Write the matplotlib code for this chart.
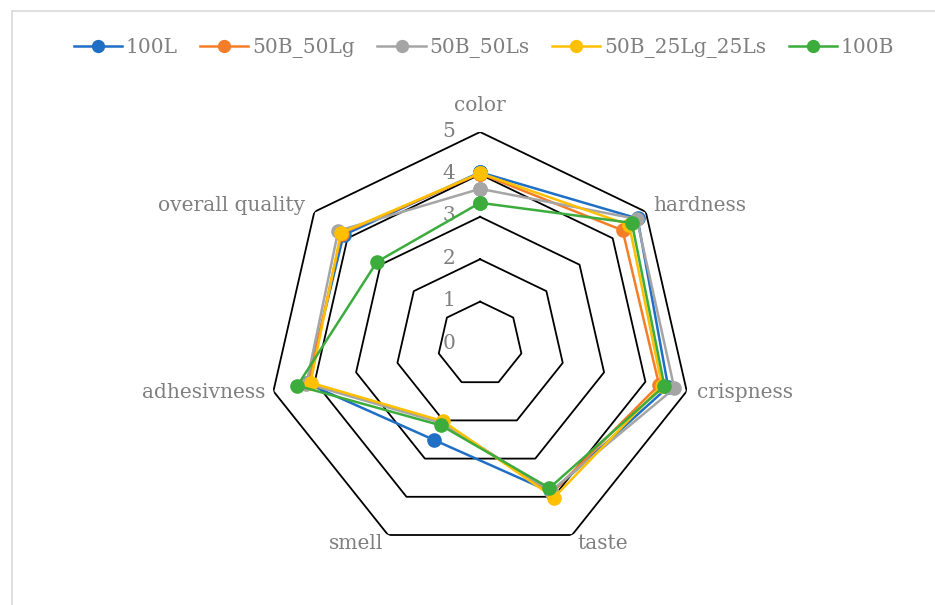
import numpy as np
import matplotlib.pyplot as plt
from matplotlib.patches import Rectangle

categories = ['color', 'hardness', 'crispness', 'taste', 'smell',
              'adhesivness', 'overall quality']
series_names = ['100L', '50B_50Lg', '50B_50Ls', '50B_25Lg_25Ls', '100B']
v_100L = [4.05, 4.75, 4.55, 3.88, 2.51, 4.18, 4.12]
v_50B_50Lg = [4.02, 4.30, 4.33, 3.90, 2.05, 4.15, 4.18]
v_50B_50Ls = [3.66, 4.73, 4.70, 3.85, 2.07, 4.20, 4.28]
v_50B_25Lg_25Ls = [4.03, 4.50, 4.40, 4.02, 2.02, 4.10, 4.20]
v_100B = [3.33, 4.58, 4.46, 3.77, 2.13, 4.42, 3.11]
colors = ['#1f6fc5', '#f47d2a', '#a5a5a5', '#ffc000', '#3cac3c']
ring_values = [1, 2, 3, 4, 5]
ring_labels = ['0', '1', '2', '3', '4', '5']

txt_color = '#7f7f7f'
font = 'DejaVu Serif'
fsize = 14.5

fig = plt.figure(figsize=(9.35, 6.05), dpi=100)
fig.patches.append(Rectangle((12 / 935, -0.02), 1.0, 1 - 11 / 605 + 0.02,
                             transform=fig.transFigure, fill=False,
                             edgecolor='#d9d9d9', linewidth=1.2))

ax = fig.add_axes([0.2867, 0.0810, 0.4535, 0.7008], projection='polar')
ax.set_theta_offset(np.pi / 2)
ax.set_theta_direction(-1)
ax.set_ylim(0, 5)
ax.grid(False)
ax.spines['polar'].set_visible(False)
ax.set_xticks([])
ax.set_yticks([])
ax.patch.set_alpha(0)

n = len(categories)
angles = np.linspace(0, 2 * np.pi, n, endpoint=False)
closed = np.concatenate([angles, angles[:1]])

# heptagon grid
for r in ring_values:
    ax.plot(closed, [r] * (n + 1), color='black', linewidth=1.3, zorder=1)

# value labels along the top axis
for i, lab in enumerate(ring_labels):
    ax.annotate(lab, (0, i), xytext=(-31, 1), textcoords='offset pixels',
                ha='center', va='center', fontsize=fsize, color=txt_color,
                family=font)

# category labels
offsets = [(0, 27, 'center', 'center'), (7, 6, 'left', 'center'),
           (10, -1, 'left', 'center'), (5, -8, 'left', 'center'),
           (-5, -8, 'right', 'center'), (-8, -1, 'right', 'center'),
           (-9, 6, 'right', 'center')]
for ang, cat, (dx, dy, ha, va) in zip(angles, categories, offsets):
    ax.annotate(cat, (ang, 5), xytext=(dx, dy), textcoords='offset pixels',
                ha=ha, va=va, fontsize=fsize, color=txt_color, family=font)

all_values = [v_100L, v_50B_50Lg, v_50B_50Ls, v_50B_25Lg_25Ls, v_100B]
for name, vals, c in zip(series_names, all_values, colors):
    ax.plot(closed, vals + vals[:1], color=c, linewidth=1.8, marker='o',
            markersize=9.5, label=name, zorder=3, clip_on=False)

leg = fig.legend(loc='center', bbox_to_anchor=(484 / 935, 1 - 48 / 605),
                 ncol=5, frameon=False, handlelength=2.4, handletextpad=0.2,
                 columnspacing=1.1, markerscale=0.9,
                 prop={'family': font, 'size': fsize})
for t in leg.get_texts():
    t.set_color(txt_color)

fig.savefig('out.png', dpi=100)
